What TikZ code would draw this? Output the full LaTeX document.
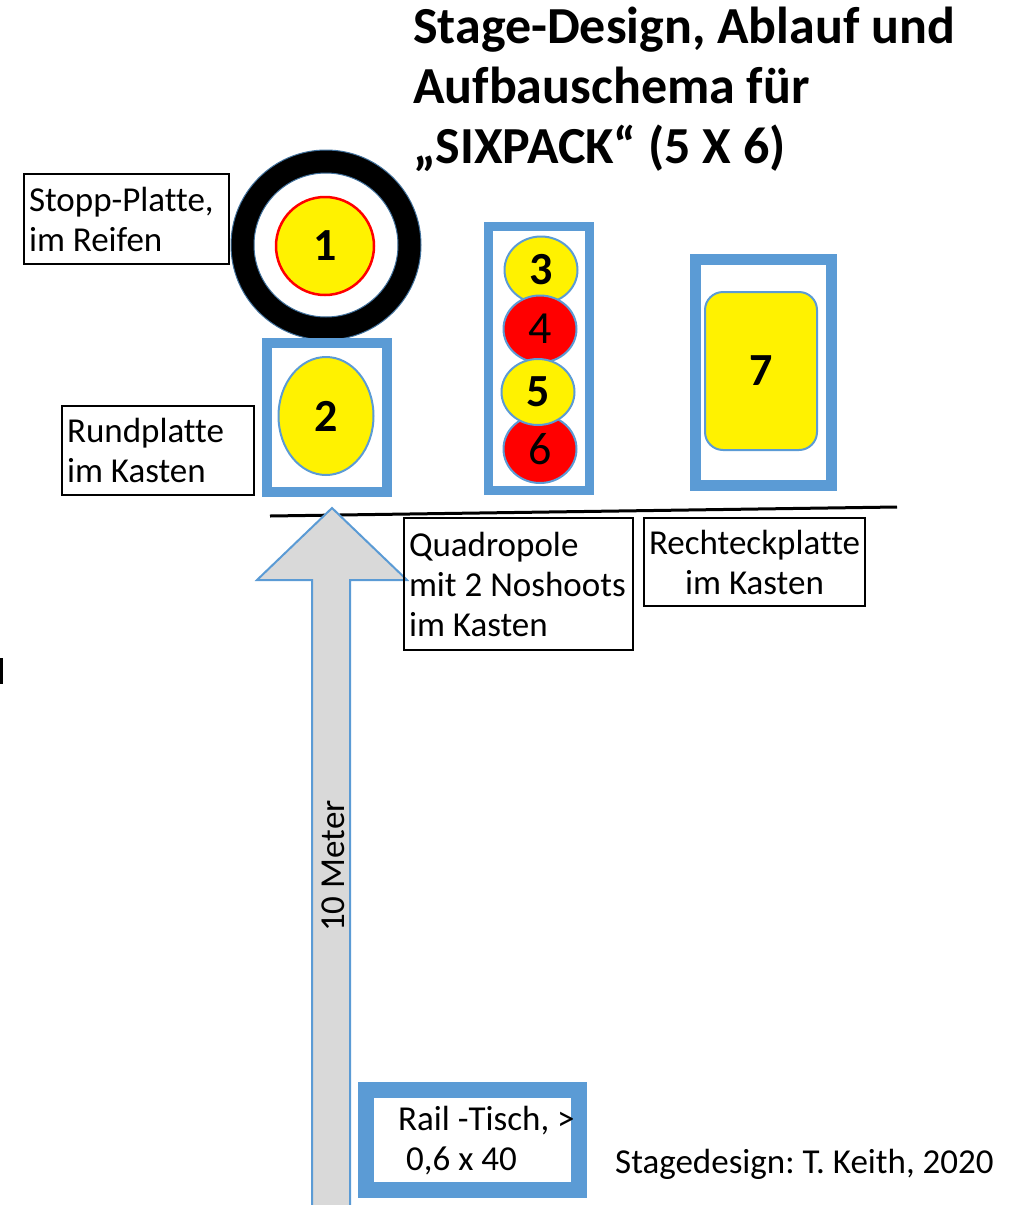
\documentclass[tikz,border=0pt]{standalone}
\usepackage{fontspec}
\setmainfont{Carlito}[Ligatures=CommonOff]
\frenchspacing
\usetikzlibrary{shapes.geometric}
\definecolor{frblue}{HTML}{5B9BD5}
\definecolor{ringedge}{HTML}{41719C}
\definecolor{arrowgray}{HTML}{D9D9D9}
\begin{document}
\begin{tikzpicture}[x=1pt,y=-1pt,
  lbl/.style={draw=black, line width=2pt, font=\fontsize{35}{40}\selectfont, align=left, inner xsep=5pt, inner ysep=0pt, anchor=north west},
  frame/.style={draw=frblue, line width=#1},
  digit/.style={font=\fontsize{46}{46}\selectfont\bfseries},
  digitreg/.style={font=\fontsize{46}{46}\selectfont},
  plate/.style={draw=frblue, line width=2pt, inner sep=0pt}
]
\useasboundingbox (0,0) rectangle (1013,1205);

% title (anchor at baseline of last line)
\node[anchor=base west, align=left, inner sep=0pt, font=\fontsize{52}{60}\selectfont\bfseries] (title) at (413,163)
  {\spaceskip=0pt\xspaceskip=0pt Stage-Design, Ablauf und\\Aufbauschema für\\„SIXPACK“ (5 X 6)};

% small bar at left edge
\fill[black] (0,658) rectangle (3,684);

% target ring with plate 1
\node[circle, draw=black, line width=23pt, minimum size=167pt, inner sep=0pt] (ring) at (326,245) {};
\node[circle, draw=ringedge, line width=1pt, minimum size=190pt, inner sep=0pt] (ringout) at (326,245) {};
\node[circle, draw=ringedge, line width=1pt, minimum size=144pt, inner sep=0pt] (ringin) at (326,245) {};
\node[circle, fill=yellow, draw=red, line width=2.5pt, minimum size=98pt, inner sep=0pt, digit] (p1) at (325,246) {1};

% box 2
\draw[frame=10pt] (267,343) rectangle (387,492);
\node[ellipse, fill=yellow, plate, minimum width=95pt, minimum height=118pt, digit] (p2) at (326,416) {2};

% quadropole box
\draw[frame=9pt] (488.5,226.5) rectangle (589.5,490.5);
\node[ellipse, fill=yellow, plate, minimum width=73pt, minimum height=67pt, digit] (p3) at (541,270) {3};
\node[ellipse, fill=red, plate, minimum width=73pt, minimum height=67pt, digitreg] (p4) at (540,329) {4};
\node[ellipse, fill=red, plate, minimum width=73pt, minimum height=68pt, digitreg] (p6) at (540,449) {6};
\node[ellipse, fill=yellow, plate, minimum width=73pt, minimum height=66pt, digit] (p5) at (538,392) {5};

% box 7
\draw[frame=11pt] (695.5,259.5) rectangle (831.5,485.5);
\node[rectangle, rounded corners=18pt, fill=yellow, plate, minimum width=112pt, minimum height=158pt, digit] (p7) at (761,371) {7};

% ground line
\coordinate (lineA) at (270,516);
\coordinate (lineB) at (897,507);
\draw[line width=3pt, black] (lineA) -- (lineB);

% big arrow
\draw[fill=arrowgray, draw=frblue, line width=2pt] (332,508) -- (407,580) -- (350,580) -- (350,1215) -- (312,1215) -- (312,580) -- (257,580) -- cycle;
\node[rotate=90, font=\fontsize{35}{35}\selectfont, inner sep=0pt] (meter) at (333,866) {10 Meter};

% labels
\node[lbl, text width=195pt, minimum height=90pt] (stopp) at (23,173) {\spaceskip=0pt\xspaceskip=0pt \mbox{Stopp-Platte,}\\\mbox{im Reifen}};
\node[lbl, text width=182pt, minimum height=89pt] (rund) at (61,405) {\spaceskip=0pt\xspaceskip=0pt \mbox{Rundplatte}\\\mbox{im Kasten}};
\node[lbl, text width=219pt, minimum height=132pt] (quadro) at (403,517) {\spaceskip=0pt\xspaceskip=0pt \mbox{Quadropole}\\\mbox{mit 2 Noshoots}\\\mbox{im Kasten}};
\node[lbl, text width=211pt, minimum height=88pt, align=center] (recht) at (643,517) {\spaceskip=0pt\xspaceskip=0pt \mbox{Rechteckplatte}\\\mbox{im Kasten}};

% rail table
\draw[frame=16pt] (366,1090) rectangle (579,1190);
\node[anchor=base west, align=left, inner sep=0pt, font=\fontsize{35}{40}\selectfont] (rail) at (398,1170) {\spaceskip=0pt\xspaceskip=0pt Rail -Tisch, >\\\hspace*{8pt}0,6 x 40};

% credit
\node[anchor=base west, inner sep=0pt, font=\fontsize{35}{35}\selectfont] (credit) at (615,1173) {Stagedesign: T. Keith, 2020};
\end{tikzpicture}
\end{document}
